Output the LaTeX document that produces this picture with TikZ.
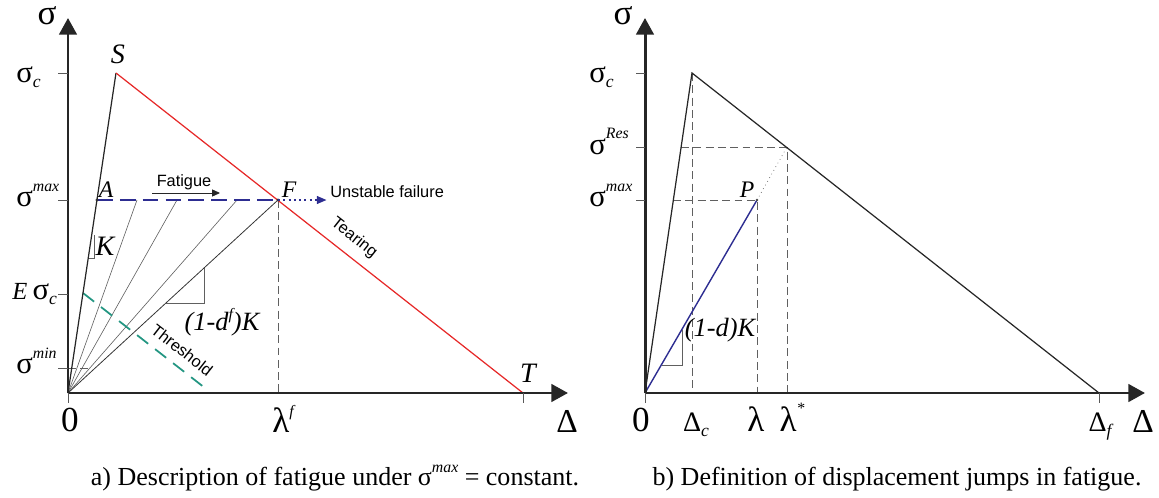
\documentclass[tikz,border=0pt]{standalone}
\usepackage{fontspec}
\setmainfont{Liberation Serif}
\newfontfamily\labelsans{Liberation Sans}
\usetikzlibrary{arrows.meta,positioning,calc}
\definecolor{tearred}{RGB}{230,40,40}
\definecolor{maxblue}{RGB}{45,45,145}
\definecolor{threshgreen}{RGB}{35,150,130}
\newcommand{\supidx}[2][7pt]{\raisebox{#1}{\fontsize{9}{9}\selectfont\itshape #2}}
\newcommand{\subidx}[1]{\raisebox{-3pt}{\fontsize{10}{10}\selectfont\itshape #1}}

\begin{document}
\begin{tikzpicture}[x=0.02cm, y=-0.02cm,
    axis/.style={line width=1.7pt, black!85, -{Triangle[length=9.5pt, width=10pt]}},
    tickmark/.style={gray!70!black, line width=0.5pt},
    ticklbl/.style={font=\fontsize{17.5}{17.5}\selectfont, inner sep=0pt, anchor=base west},
    axislbl/.style={font=\fontsize{20}{20}\selectfont, inner sep=0pt, anchor=base},
    xlbl/.style={font=\fontsize{20}{20}\selectfont, inner sep=0pt, anchor=base},
    dlbl/.style={font=\fontsize{16}{16}\selectfont, inner sep=0pt, anchor=base},
    ptlbl/.style={font=\fontsize{16}{16}\selectfont\itshape, inner sep=0pt, anchor=base},
    smallpt/.style={font=\fontsize{13.5}{13.5}\selectfont\itshape, inner sep=0pt, anchor=base},
    loadline/.style={black!85, line width=0.7pt},
    tearline/.style={tearred, line width=0.7pt},
    unload/.style={gray!75!black, line width=0.35pt},
    guide/.style={gray!75!black, line width=0.5pt, dash pattern=on 4.5pt off 2.5pt},
    maxline/.style={maxblue, line width=0.8pt, dash pattern=on 9pt off 4pt},
    thresh/.style={threshgreen, line width=1pt, dash pattern=on 8pt off 5pt},
    sanstext/.style={font=\labelsans\fontsize{9.3}{10}\selectfont, inner sep=0pt},
    slopelbl/.style={font=\fontsize{15}{15}\selectfont\itshape, inner sep=0pt, anchor=base},
    caption/.style={font=\fontsize{14.8}{15}\selectfont, inner sep=0pt, anchor=base},
  ]
  \useasboundingbox (0,0) rectangle (1159,497);

  % ---- a) fatigue under constant sigma max
  \coordinate (O1) at (68,393);
  \coordinate (ytop1) at (68,18);
  \coordinate (xtop1) at (568,393);
  \coordinate (S) at (116,73);
  \coordinate (T) at (523,393);
  \coordinate (A) at (97,200);
  \coordinate (F) at (278,200);
  \coordinate (lamf) at (278,393);
  \coordinate (th1) at (83,293);
  \coordinate (th2) at (205,388);

  % guides and unloading branches
  \draw[guide] (F) -- (lamf);
  \draw[guide] (68,368) -- (92,368);
  \foreach \ux [count=\i] in {137,177,237} {
    \coordinate (u\i) at (\ux,200);
    \draw[unload] (O1) -- (u\i);
  }
  \draw[black!80, line width=0.45pt] (O1) -- (F);
  \draw[thresh] (th1) -- (th2);

  % softening law
  \draw[loadline] (O1) -- (S);
  \draw[tearline] (S) -- (T);
  \draw[maxline] (A) -- (F);
  \fill[black!80] (A) circle [radius=1.6];
  \fill[black!80] (F) circle [radius=1.6];

  % slope marks
  \draw[unload, line width=0.45pt] (89,258) -- (94,258) -- (94,235);
  \draw[unload, line width=0.45pt] (166,303) -- (204,303) -- (204,268);

  % axes and ticks
  \draw[axis] (O1) -- (ytop1);
  \draw[axis] (O1) -- (xtop1);
  \foreach \ty in {73,200,294,368}
    \draw[tickmark] (58,\ty) -- (68,\ty);
  \draw[tickmark] (O1) -- ++(0,10);
  \draw[tickmark] (T) -- ++(0,10);

  % labels
  \node[axislbl] (sig1) at (47,25) {σ};
  \node[axislbl, font=\fontsize{19}{19}\selectfont] (del1) at (567,432) {Δ};
  \node[ticklbl] (sc1) at (16,82) {σ\subidx{c}};
  \node[ticklbl] (smax1) at (16,206) {σ\supidx[8pt]{max}};
  \node[ticklbl] (esc) at (12,299) {{\fontsize{14}{14}\selectfont\itshape E}\,σ\subidx{c}};
  \node[ticklbl] (smin) at (16,373) {σ\supidx[8pt]{min}};
  \node[xlbl] (zero1) at (70,431) {0};
  \node[xlbl] (lflbl) at (283,432) {λ\supidx[9pt]{f}};
  \node[ptlbl] (Slbl) at (118,63) {S};
  \node[smallpt] (Albl) at (106,197) {A};
  \node[smallpt] (Flbl) at (289,197) {F};
  \node[ptlbl] (Tlbl) at (528,382) {T};
  \node[ptlbl] (Klbl) at (105,255) {K};
  \node[slopelbl] (slopef) at (222,330) {(1-d\supidx[6pt]{f})K};

  \node[sanstext, anchor=base] (fatig) at (184,186) {Fatigue};
  \coordinate (fatA) at (152,193);
  \coordinate (fatB) at (220,193);
  \draw[black!85, line width=0.5pt, -{Triangle[length=4.5pt, width=4pt]}] (fatA) -- (fatB);
  \node[sanstext, anchor=base west] (ufail) at (330,197) {Unstable failure};
  \draw[maxblue, line width=0.8pt, dash pattern=on 1.2pt off 1.8pt,
        -{Triangle[length=5.5pt, width=4.5pt]}] (F) -- ([xshift=-2pt]ufail.west |- F);
  \node[sanstext, rotate=-38.35] (tear) at (354,238) {Tearing};
  \node[sanstext, rotate=-38] (thr) at (182,350) {Threshold};

  % ---- b) displacement jumps
  \coordinate (O2) at (645,393);
  \coordinate (ytop2) at (645,18);
  \coordinate (xtop2) at (1145,393);
  \coordinate (C) at (692,73);
  \coordinate (Df) at (1099,393);
  \coordinate (R) at (787,147);
  \coordinate (P) at (757,200);
  \coordinate (Dc) at (692,393);
  \coordinate (lam) at (757,393);
  \coordinate (lams) at (787,393);
  \coordinate (r0) at (681,147);
  \coordinate (p0) at (673,200);

  \draw[guide] (C) -- (Dc);
  \draw[guide] (r0) -- (R) -- (lams);
  \draw[guide] (p0) -- (P) -- (lam);
  \draw[loadline] (O2) -- (C) -- (Df);
  \draw[maxblue, line width=0.8pt] (O2) -- (P);
  \draw[gray!75!black, line width=0.4pt, dotted] (P) -- (R);
  \fill[black!70] (P) circle [radius=1.4];
  \draw[unload, line width=0.45pt] (662,365) -- (682,365) -- (682,330);

  \draw[axis] (O2) -- (ytop2);
  \draw[axis] (O2) -- (xtop2);
  \foreach \ty in {73,147,200}
    \draw[tickmark] (636,\ty) -- (645,\ty);
  \draw[tickmark] (O2) -- ++(0,10);
  \draw[tickmark] (Df) -- ++(0,10);

  \node[axislbl] (sig2) at (623,25) {σ};
  \node[axislbl, font=\fontsize{19}{19}\selectfont] (del2) at (1143,432) {Δ};
  \node[ticklbl] (sc2) at (589,82) {σ\subidx{c}};
  \node[ticklbl] (sres) at (589,154) {σ\supidx[9pt]{Res}};
  \node[ticklbl] (smax2) at (589,206) {σ\supidx[8pt]{max}};
  \node[xlbl] (zero2) at (641,431) {0};
  \node[dlbl] (dclbl) at (696,431) {Δ\subidx{c}};
  \node[xlbl] (lamlbl) at (756,431) {λ};
  \node[xlbl] (lamslbl) at (792,431) {λ\supidx[10pt]{*}};
  \node[dlbl] (dflbl) at (1100,431) {Δ\subidx{f}};
  \node[smallpt] (Plbl) at (747,197) {P};
  \node[slopelbl] (slope2) at (720,336) {(1-d)K};

  % captions
  \node[caption] (capa) at (335,485) {a) Description of fatigue under σ\supidx{max} = constant.};
  \node[caption] (capb) at (897,485) {b) Definition of displacement jumps in fatigue.};
\end{tikzpicture}
\end{document}
